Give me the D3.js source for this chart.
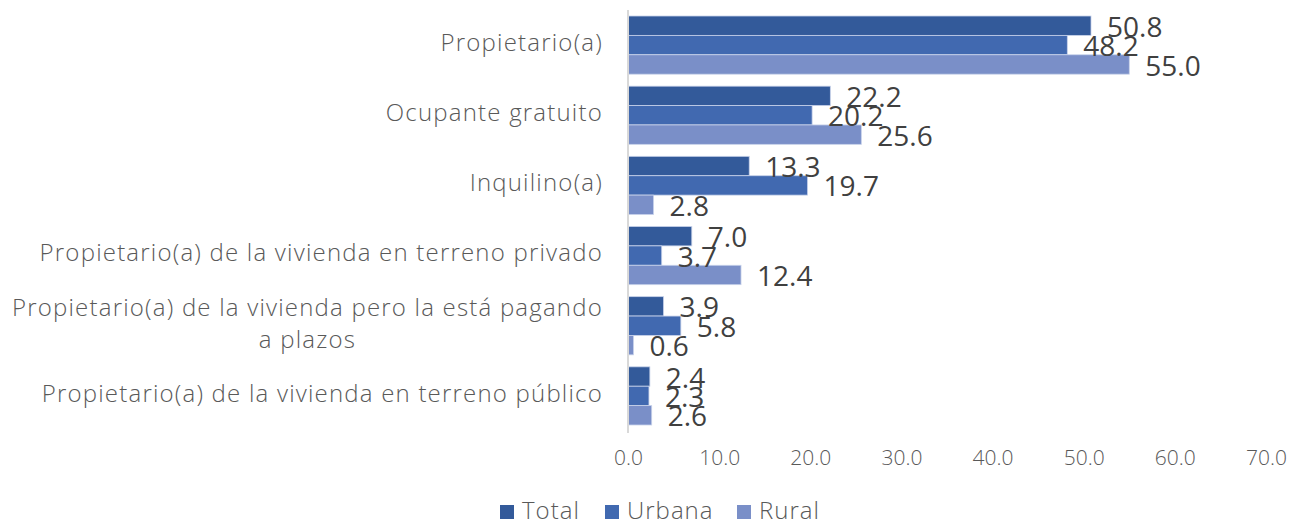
<!DOCTYPE html>
<html lang="es">
<head>
<meta charset="utf-8">
<script src="https://cdn.jsdelivr.net/npm/d3@7"></script>
<style>
  html, body { margin: 0; padding: 0; background: #fff; }
  svg { display: block; font-family: "Open Sans", Lato, sans-serif; }
</style>
</head>
<body>
<svg id="chart" width="1298" height="522"></svg>
<script>
// Tenencia de la vivienda, porcentaje por área
const categories = [
  "Propietario(a)",
  "Ocupante gratuito",
  "Inquilino(a)",
  "Propietario(a) de la vivienda en terreno privado",
  "Propietario(a) de la vivienda pero la está pagando a plazos",
  "Propietario(a) de la vivienda en terreno público"
];
const categoryLines = [
  ["Propietario(a)"],
  ["Ocupante gratuito"],
  ["Inquilino(a)"],
  ["Propietario(a) de la vivienda en terreno privado"],
  ["Propietario(a) de la vivienda pero la está pagando", "a plazos"],
  ["Propietario(a) de la vivienda en terreno público"]
];
const seriesNames = ["Total", "Urbana", "Rural"];
const totalValues  = [50.8, 22.2, 13.3, 7.0, 3.9, 2.4];
const urbanaValues = [48.2, 20.2, 19.7, 3.7, 5.8, 2.3];
const ruralValues  = [55.0, 25.6, 2.8, 12.4, 0.6, 2.6];
const xTicks = [0, 10, 20, 30, 40, 50, 60, 70];

const seriesValues = [totalValues, urbanaValues, ruralValues];
const colors = ["#335A9A", "#4169B0", "#7A8FC8"];

const svg = d3.select("#chart");
const plot = { left: 628, right: 1266, top: 10, bottom: 431 };

const x = d3.scaleLinear().domain([0, 70]).range([plot.left, plot.right]);
const y = d3.scaleBand().domain(categories).range([plot.top, plot.bottom])
  .paddingInner(0.171).paddingOuter(0.0855);
const ySub = d3.scaleBand().domain(seriesNames).range([0, y.bandwidth()]);

// bars
const groups = svg.append("g").selectAll("g")
  .data(categories)
  .join("g")
  .attr("transform", c => `translate(0,${y(c)})`);

groups.selectAll("rect")
  .data((c, i) => seriesNames.map((s, k) => ({ s, k, v: seriesValues[k][i] })))
  .join("rect")
  .attr("x", x(0))
  .attr("y", d => ySub(d.s))
  .attr("width", d => x(d.v) - x(0))
  .attr("height", ySub.bandwidth())
  .attr("fill", d => colors[d.k])
  .attr("stroke", "#c8d2ea")
  .attr("stroke-width", 0.8);

// value labels
groups.selectAll("text.val")
  .data((c, i) => seriesNames.map((s, k) => ({ s, k, v: seriesValues[k][i] })))
  .join("text")
  .attr("class", "val")
  .attr("x", d => x(d.v) + 16)
  .attr("y", d => ySub(d.s) + ySub.bandwidth() / 2 + 1)
  .attr("dy", "0.36em")
  .attr("font-size", 28)
  .attr("fill", "#404040")
  .text(d => d.v.toFixed(1));

// vertical axis line
svg.append("line")
  .attr("x1", x(0)).attr("x2", x(0))
  .attr("y1", plot.top).attr("y2", plot.bottom + 2)
  .attr("stroke", "#d9d9d9").attr("stroke-width", 2);

// category labels
const catG = svg.append("g");
categories.forEach((c, i) => {
  const lines = categoryLines[i];
  const cy = y(c) + y.bandwidth() / 2 - 2.5;
  const lh = 32;
  const t = catG.append("text")
    .attr("text-anchor", "middle")
    .attr("font-size", 24)
    .attr("font-weight", 300)
    .attr("letter-spacing", 1.2)
    .attr("fill", "#595959");
  lines.forEach((ln, j) => {
    t.append("tspan")
      .attr("x", 0)
      .attr("y", cy + (j - (lines.length - 1) / 2) * lh)
      .attr("dy", "0.35em")
      .text(ln);
  });
  // right-align the block, centering the lines within it
  const w = t.node().getBBox().width;
  t.selectAll("tspan").attr("x", 603 - w / 2);
});

// x tick labels
const xAxis = d3.axisBottom(x).tickValues(xTicks).tickSize(0).tickPadding(0)
  .tickFormat(d => d.toFixed(1));
const xg = svg.append("g").attr("transform", "translate(0,450)").call(xAxis);
xg.select(".domain").remove();
xg.selectAll("text")
  .attr("font-size", 21)
  .attr("font-weight", 300)
  .attr("font-family", "\"Open Sans\", Lato, sans-serif")
  .attr("fill", "#595959");

// legend
const legendItems = [
  { name: "Total", x: 500 },
  { name: "Urbana", x: 605 },
  { name: "Rural", x: 737 }
];
const lg = svg.append("g");
legendItems.forEach((it, k) => {
  lg.append("rect")
    .attr("x", it.x).attr("y", 505)
    .attr("width", 14).attr("height", 14)
    .attr("fill", colors[k]);
  lg.append("text")
    .attr("x", it.x + 22).attr("y", 510.5)
    .attr("dy", "0.36em")
    .attr("font-size", 24)
    .attr("font-weight", 300)
    .attr("letter-spacing", 1)
    .attr("fill", "#595959")
    .text(it.name);
});
</script>
</body>
</html>
